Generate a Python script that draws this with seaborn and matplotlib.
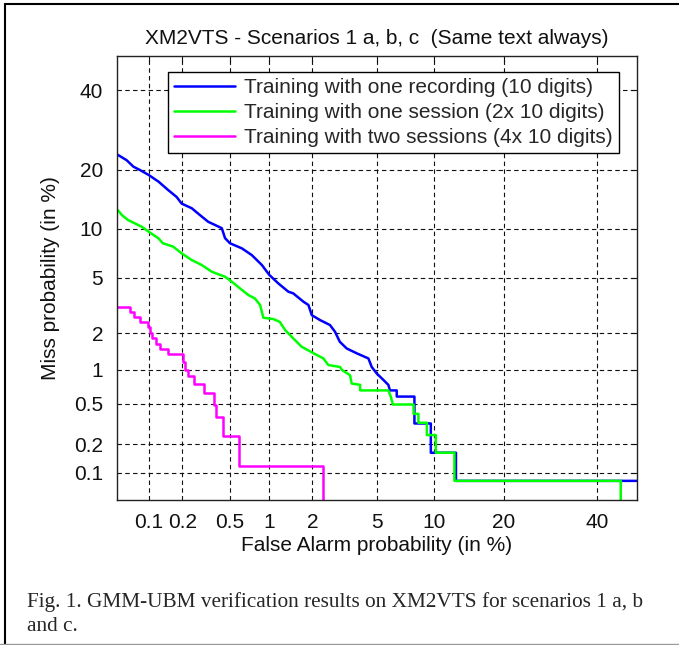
import math
import numpy as np
import matplotlib
matplotlib.use('Agg')
import matplotlib.pyplot as plt
import seaborn as sns
from matplotlib.lines import Line2D

# DET curves, both axes in %
fa_rec = [0.05, 0.062, 0.072, 0.083, 0.1, 0.123, 0.151, 0.179, 0.198, 0.242,
          0.285, 0.333, 0.43, 0.457, 0.5, 0.62, 0.74, 0.88, 1.0, 1.16,
          1.37, 1.48, 1.74, 1.88, 1.98, 2.24, 2.6, 2.8, 3.0, 3.31,
          3.8, 4.46, 4.66, 4.98, 5.42, 5.78, 5.9, 6.42, 6.42, 7.95,
          7.95, 9.6, 9.6, 12.6, 12.6, 50]
miss_rec = [23.3, 22.0, 20.6, 19.9, 18.9, 17.6, 16.0, 14.8, 13.7, 12.96,
            11.9, 10.96, 10.1, 8.85, 8.26, 7.7, 7.0, 6.07, 5.23, 4.6,
            4.03, 3.93, 3.43, 3.25, 2.74, 2.52, 2.31, 2.05, 1.71, 1.51,
            1.38, 1.25, 1.06, 0.93, 0.82, 0.74, 0.66, 0.66, 0.58, 0.58,
            0.323, 0.323, 0.164, 0.164, 0.082, 0.082]

fa_ses = [0.05, 0.056, 0.064, 0.074, 0.086, 0.1, 0.123, 0.135, 0.167, 0.198,
          0.242, 0.294, 0.357, 0.457, 0.517, 0.6, 0.697, 0.78, 0.854, 0.904,
          1.07, 1.19, 1.3, 1.48, 1.69, 2.03, 2.36, 2.54, 3.01, 3.09,
          3.47, 3.55, 3.99, 3.99, 5.78, 5.96, 6.12, 7.87, 7.87, 8.33,
          8.33, 9.18, 9.18, 10.15, 10.15, 12.4, 12.4, 45.9, 45.9]
miss_ses = [12.8, 11.9, 11.2, 10.75, 10.3, 9.65, 8.83, 8.26, 7.88, 7.18,
            6.52, 6.07, 5.49, 5.09, 4.72, 4.25, 3.82, 3.62, 3.25, 2.62,
            2.56, 2.44, 2.11, 1.82, 1.56, 1.38, 1.25, 1.1, 1.06, 1.0,
            0.9, 0.76, 0.74, 0.66, 0.66, 0.58, 0.49, 0.49, 0.40, 0.40,
            0.328, 0.328, 0.248, 0.248, 0.164, 0.164, 0.082, 0.082, 0.0]

# this one is drawn as steps
fa_two = [0.05, 0.067, 0.073, 0.083, 0.098, 0.103, 0.108, 0.118, 0.127, 0.151,
          0.205, 0.212, 0.224, 0.255, 0.309, 0.372, 0.386, 0.442, 0.59, 2.36]
miss_two = [3.12, 2.9, 2.66, 2.44, 2.22, 1.99, 1.82, 1.63, 1.49, 1.37,
            1.17, 1.0, 0.89, 0.75, 0.62, 0.48, 0.375, 0.244, 0.12, 0.0]

labels = ['Training with one recording (10 digits)',
          'Training with one session (2x 10 digits)',
          'Training with two sessions (4x 10 digits)']
ticks = [0.1, 0.2, 0.5, 1, 2, 5, 10, 20, 40]
tick_labels = ['0.1', '0.2', '0.5', '1', '2', '5', '10', '20', '40']


# normal deviate scale (Acklam's inverse normal approximation)
A = [-3.969683028665376e+01, 2.209460984245205e+02, -2.759285104469687e+02,
     1.383577518672690e+02, -3.066479806614716e+01, 2.506628277459239e+00]
B = [-5.447609879822406e+01, 1.615858368580409e+02, -1.556989798598866e+02,
     6.680131188771972e+01, -1.328068155288572e+01]
C = [-7.784894002430293e-03, -3.223964580411365e-01, -2.400758277161838e+00,
     -2.549732539343734e+00, 4.374664141464968e+00, 2.938163982698783e+00]
D = [7.784695709041462e-03, 3.224671290700398e-01, 2.445134137142996e+00,
     3.754408661907416e+00]


def ppf(p):
    p = np.clip(np.asarray(p, dtype=float), 1e-12, 1 - 1e-12)
    q = np.minimum(p, 1 - p)
    t = np.sqrt(-2 * np.log(q))
    tail = (((((C[0]*t + C[1])*t + C[2])*t + C[3])*t + C[4])*t + C[5]) / \
           ((((D[0]*t + D[1])*t + D[2])*t + D[3])*t + 1)
    tail = np.where(p < 0.5, tail, -tail)
    u = p - 0.5
    r = u * u
    mid = (((((A[0]*r + A[1])*r + A[2])*r + A[3])*r + A[4])*r + A[5]) * u / \
          (((((B[0]*r + B[1])*r + B[2])*r + B[3])*r + B[4])*r + 1)
    return np.where(q < 0.02425, tail, mid)


_erf = np.vectorize(math.erf)


def fwd(v):
    return ppf(np.asarray(v, dtype=float) / 100.0)


def inv(z):
    z = np.asarray(z, dtype=float)
    return 50.0 * (1 + _erf(z / math.sqrt(2)))


sns.set_style('white')
plt.rcParams['font.family'] = ['Liberation Sans', 'DejaVu Sans']
fs = 15

fig = plt.figure(figsize=(6.79, 6.45), dpi=100)
ax = fig.add_axes([117/679, 1 - 500/645, 520/679, 444/645])
ax.set_xscale('function', functions=(fwd, inv))
ax.set_yscale('function', functions=(fwd, inv))

sns.lineplot(x=fa_rec, y=miss_rec, ax=ax, color='#0000ff', lw=1.8,
             estimator=None, sort=False, label=labels[0])
sns.lineplot(x=fa_ses, y=miss_ses, ax=ax, color='#00ff00', lw=1.8,
             estimator=None, sort=False, label=labels[1])
sns.lineplot(x=fa_two, y=miss_two, ax=ax, color='#ff00ff', lw=1.8,
             estimator=None, sort=False, drawstyle='steps-post', label=labels[2])

ax.set_xlim(0.05, 50)
ax.set_ylim(0.05, 50)
ax.set_xticks(ticks)
ax.set_xticklabels(tick_labels)
ax.set_yticks(ticks)
ax.set_yticklabels(tick_labels)
ax.minorticks_off()
ax.grid(True, color='#111111', ls=(0, (4, 3)), lw=0.8)
ax.set_axisbelow(True)
for s in ax.spines.values():
    s.set_color('#222222')
    s.set_linewidth(1.0)
ax.tick_params(direction='in', length=4, width=0.8, top=True, right=True,
               labelsize=fs, colors='#111111')
ax.tick_params(axis='x', pad=9)
ax.tick_params(axis='y', pad=10)

ax.set_title('XM2VTS - Scenarios 1 a, b, c  (Same text always)',
             fontsize=fs, pad=9, color='#111111')
ax.set_xlabel('False Alarm probability (in %)', fontsize=fs, labelpad=3, color='#111111')
ax.set_ylabel('Miss probability (in %)', fontsize=fs, labelpad=10, color='#111111')

leg = ax.legend(loc='upper right', bbox_to_anchor=(0.965, 0.964), borderaxespad=0,
                fontsize=fs, frameon=True, fancybox=False, edgecolor='black',
                framealpha=1, handlelength=2.9, labelspacing=0.28,
                handletextpad=0.45, borderpad=0.3)
leg.get_frame().set_linewidth(1.0)

# page frame and caption
fig.add_artist(Line2D([5/679, 5/679], [1/645, 1 - 4/645], transform=fig.transFigure,
                      color='black', lw=1.5))
fig.add_artist(Line2D([5/679, 1], [1 - 4/645, 1 - 4/645], transform=fig.transFigure,
                      color='black', lw=1.5))
fig.add_artist(Line2D([0, 1], [1.5/645, 1.5/645], transform=fig.transFigure,
                      color='#999999', lw=1.0))
fig.text(27/679, 1 - 607/645,
         'Fig. 1. GMM-UBM verification results on XM2VTS for scenarios 1 a, b',
         family='Liberation Serif', fontsize=15.3, va='baseline', ha='left')
fig.text(27/679, 1 - 631/645, 'and c.',
         family='Liberation Serif', fontsize=15.3, va='baseline', ha='left')

fig.savefig('out.png', dpi=100)
